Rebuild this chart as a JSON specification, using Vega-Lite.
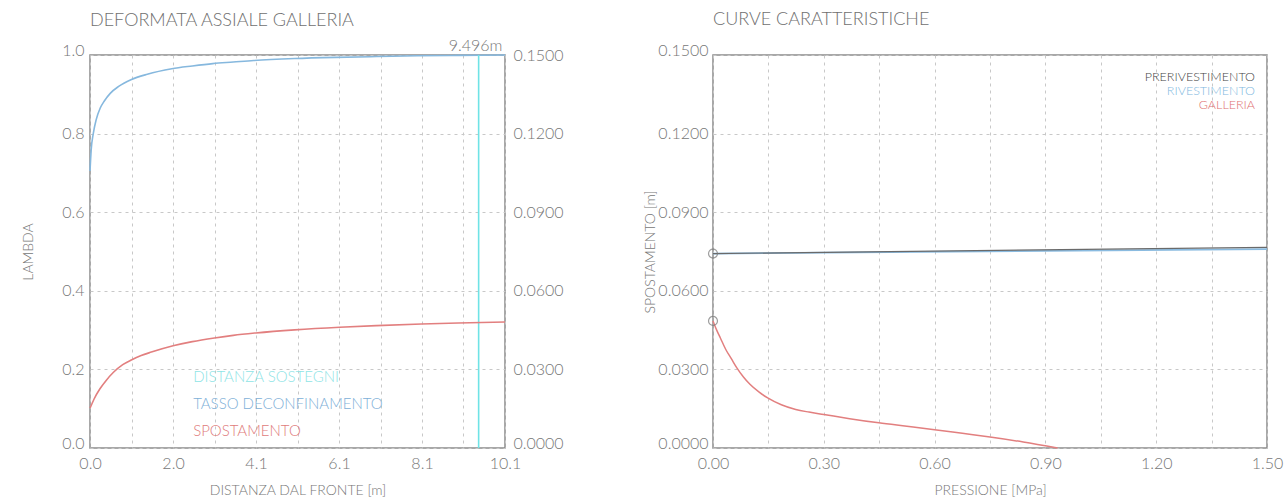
{
  "$schema": "https://vega.github.io/schema/vega-lite/v6.json",
  "background": "white",
  "padding": {"left": 20, "top": 10, "right": 0, "bottom": 0},
  "bounds": "flush",
  "spacing": 208,
  "config": {
    "font": "Lato",
    "view": {"stroke": "#8c8c8c", "strokeWidth": 1.5},
    "axis": {
      "domain": false,
      "ticks": false,
      "grid": true,
      "gridColor": "#c8c8c8",
      "gridDash": [3, 4],
      "gridWidth": 1,
      "labelFlush": false,
      "labelColor": "#777777",
      "labelFont": "Lato",
      "labelFontSize": 16,
      "labelFontWeight": 300,
      "titleColor": "#777777",
      "titleFont": "Lato",
      "titleFontSize": 14,
      "titleFontWeight": 300
    },
    "title": {"font": "Lato", "fontSize": 18, "fontWeight": 300, "color": "#6f6f6f", "anchor": "start", "frame": "group"},
    "text": {"font": "Lato", "fontWeight": 300}
  },
  "datasets": {
    "lambda": [
      {"x": 0, "lambda": 0.705},
      {"x": 0.03, "lambda": 0.76},
      {"x": 0.08, "lambda": 0.8},
      {"x": 0.15, "lambda": 0.835},
      {"x": 0.25, "lambda": 0.865},
      {"x": 0.35, "lambda": 0.883},
      {"x": 0.5, "lambda": 0.903},
      {"x": 0.7, "lambda": 0.92},
      {"x": 1.0, "lambda": 0.937},
      {"x": 1.4, "lambda": 0.951},
      {"x": 2.0, "lambda": 0.965},
      {"x": 2.5, "lambda": 0.972},
      {"x": 3.0, "lambda": 0.978},
      {"x": 3.5, "lambda": 0.982},
      {"x": 4.0, "lambda": 0.986},
      {"x": 5.0, "lambda": 0.991},
      {"x": 6.0, "lambda": 0.994},
      {"x": 7.0, "lambda": 0.996},
      {"x": 8.0, "lambda": 0.998},
      {"x": 9.0, "lambda": 0.999},
      {"x": 10.14, "lambda": 1.0}
    ],
    "spostamento": [
      {"x": 0, "u": 0.0152},
      {"x": 0.05, "u": 0.017},
      {"x": 0.1, "u": 0.0187},
      {"x": 0.243, "u": 0.0226},
      {"x": 0.4, "u": 0.0259},
      {"x": 0.568, "u": 0.0288},
      {"x": 0.8, "u": 0.0318},
      {"x": 1.01, "u": 0.0336},
      {"x": 1.25, "u": 0.0353},
      {"x": 1.5, "u": 0.0366},
      {"x": 2.03, "u": 0.039},
      {"x": 2.5, "u": 0.0406},
      {"x": 3.04, "u": 0.042},
      {"x": 3.5, "u": 0.043},
      {"x": 4.05, "u": 0.0439},
      {"x": 5.0, "u": 0.0451},
      {"x": 6.1, "u": 0.0461},
      {"x": 7.0, "u": 0.0467},
      {"x": 8.1, "u": 0.0473},
      {"x": 9.0, "u": 0.0477},
      {"x": 10.14, "u": 0.0481}
    ],
    "galleria": [
      {"p": 0, "u": 0.0485},
      {"p": 0.01, "u": 0.045},
      {"p": 0.02, "u": 0.042},
      {"p": 0.035, "u": 0.0375},
      {"p": 0.05, "u": 0.034},
      {"p": 0.065, "u": 0.0305},
      {"p": 0.083, "u": 0.027},
      {"p": 0.1, "u": 0.0243},
      {"p": 0.125, "u": 0.0213},
      {"p": 0.148, "u": 0.0191},
      {"p": 0.185, "u": 0.0165},
      {"p": 0.224, "u": 0.0147},
      {"p": 0.26, "u": 0.0137},
      {"p": 0.3, "u": 0.0128},
      {"p": 0.37, "u": 0.0112},
      {"p": 0.449, "u": 0.0096},
      {"p": 0.525, "u": 0.0083},
      {"p": 0.6, "u": 0.007},
      {"p": 0.675, "u": 0.0056},
      {"p": 0.75, "u": 0.0042},
      {"p": 0.84, "u": 0.0023},
      {"p": 0.933, "u": 0.0}
    ],
    "prerivestimento": [
      {"p": 0, "u": 0.0742},
      {"p": 1.5, "u": 0.0766}
    ],
    "rivestimento": [
      {"p": 0, "u": 0.0742},
      {"p": 1.5, "u": 0.0759}
    ],
    "origini": [
      {"p": 0, "u": 0.0742},
      {"p": 0, "u": 0.0485}
    ],
    "unica": [{}]
  },
  "hconcat": [
    {
      "width": 415,
      "height": 393,
      "title": {"text": "DEFORMATA  ASSIALE  GALLERIA", "offset": 8},
      "layer": [
        {
          "layer": [
            {
              "data": {"name": "lambda"},
              "mark": {"type": "line", "color": "#86b8de", "strokeWidth": 1.6, "interpolate": "monotone"},
              "encoding": {
                "x": {
                  "field": "x",
                  "type": "quantitative",
                  "scale": {"domain": [0, 10.14], "nice": false, "zero": false},
                  "axis": {
                    "title": "DISTANZA DAL FRONTE [m]",
                    "values": [0, 1.014, 2.028, 3.042, 4.056, 5.07, 6.084, 7.098, 8.112, 9.126, 10.14],
                    "labelExpr": "round(datum.value / 1.014) % 2 == 0 ? format(datum.value, '.1f') : ''",
                    "labelPadding": 7,
                    "titlePadding": 12
                  }
                },
                "y": {
                  "field": "lambda",
                  "type": "quantitative",
                  "scale": {"domain": [0, 1], "nice": false},
                  "axis": {
                    "title": "LAMBDA",
                    "values": [0, 0.1, 0.2, 0.3, 0.4, 0.5, 0.6, 0.7, 0.8, 0.9, 1.0],
                    "labelExpr": "round(datum.value * 10) % 2 == 0 ? format(datum.value, '.1f') : ''",
                    "labelBaseline": {"condition": {"test": "datum.value == 0 || datum.value == 1", "value": "alphabetic"}, "value": "middle"},
                    "labelPadding": 6,
                    "titlePadding": 26
                  }
                }
              }
            },
            {
              "data": {"name": "unica"},
              "mark": {"type": "rule", "color": "#6fe3e6", "strokeWidth": 1.6},
              "encoding": {"x": {"datum": 9.496, "type": "quantitative"}}
            },
            {
              "data": {"name": "unica"},
              "mark": {"type": "text", "color": "#777777", "fontSize": 16, "align": "center", "baseline": "alphabetic", "dx": -3, "dy": -4},
              "encoding": {
                "x": {"datum": 9.496, "type": "quantitative"},
                "y": {"datum": 1.0, "type": "quantitative"},
                "text": {"value": "9.496m"}
              }
            },
            {
              "data": {"name": "unica"},
              "mark": {"type": "text", "color": "#8fe4e6", "fontSize": 15, "align": "left", "baseline": "middle"},
              "encoding": {
                "x": {"datum": 2.52, "type": "quantitative"},
                "y": {"datum": 0.18, "type": "quantitative"},
                "text": {"value": "DISTANZA  SOSTEGNI"}
              }
            },
            {
              "data": {"name": "unica"},
              "mark": {"type": "text", "color": "#80b0d8", "fontSize": 15, "align": "left", "baseline": "middle"},
              "encoding": {
                "x": {"datum": 2.52, "type": "quantitative"},
                "y": {"datum": 0.112, "type": "quantitative"},
                "text": {"value": "TASSO  DECONFINAMENTO"}
              }
            },
            {
              "data": {"name": "unica"},
              "mark": {"type": "text", "color": "#e07b7b", "fontSize": 15, "align": "left", "baseline": "middle"},
              "encoding": {
                "x": {"datum": 2.52, "type": "quantitative"},
                "y": {"datum": 0.043, "type": "quantitative"},
                "text": {"value": "SPOSTAMENTO"}
              }
            }
          ]
        },
        {
          "data": {"name": "spostamento"},
          "mark": {"type": "line", "color": "#e27f7f", "strokeWidth": 1.6, "interpolate": "monotone"},
          "encoding": {
            "x": {"field": "x", "type": "quantitative"},
            "y": {
              "field": "u",
              "type": "quantitative",
              "scale": {"domain": [0, 0.15], "nice": false},
              "axis": {
                "orient": "right",
                "title": null,
                "grid": false,
                "values": [0, 0.03, 0.06, 0.09, 0.12, 0.15],
                "format": ".4f",
                "labelBaseline": {"condition": {"test": "datum.value == 0", "value": "alphabetic"}, "value": "middle"},
                "labelPadding": 8
              }
            }
          }
        }
      ],
      "resolve": {"scale": {"y": "independent"}}
    },
    {
      "width": 554,
      "height": 393,
      "title": {"text": "CURVE  CARATTERISTICHE", "offset": 13},
      "layer": [
        {
          "data": {"name": "galleria"},
          "mark": {"type": "line", "color": "#e27f7f", "strokeWidth": 1.5, "interpolate": "monotone"},
          "encoding": {
            "x": {
              "field": "p",
              "type": "quantitative",
              "scale": {"domain": [0, 1.5], "nice": false},
              "axis": {
                "title": "PRESSIONE [MPa]",
                "values": [0, 0.15, 0.3, 0.45, 0.6, 0.75, 0.9, 1.05, 1.2, 1.35, 1.5],
                "labelExpr": "round(datum.value / 0.15) % 2 == 0 ? format(datum.value, '.2f') : ''",
                "labelPadding": 7,
                "titlePadding": 12
              }
            },
            "y": {
              "field": "u",
              "type": "quantitative",
              "scale": {"domain": [0, 0.15], "nice": false},
              "axis": {
                "title": "SPOSTAMENTO [m]",
                "values": [0, 0.015, 0.03, 0.045, 0.06, 0.075, 0.09, 0.105, 0.12, 0.135, 0.15],
                "labelExpr": "round(datum.value / 0.015) % 2 == 0 ? format(datum.value, '.4f') : ''",
                "labelBaseline": {"condition": {"test": "datum.value == 0 || datum.value == 0.15", "value": "alphabetic"}, "value": "middle"},
                "labelPadding": 5,
                "titlePadding": 0
              }
            }
          }
        },
        {
          "data": {"name": "rivestimento"},
          "mark": {"type": "line", "color": "#8abbe0", "strokeWidth": 1.8},
          "encoding": {
            "x": {"field": "p", "type": "quantitative"},
            "y": {"field": "u", "type": "quantitative"}
          }
        },
        {
          "data": {"name": "prerivestimento"},
          "mark": {"type": "line", "color": "#6a6a6a", "strokeWidth": 1.2},
          "encoding": {
            "x": {"field": "p", "type": "quantitative"},
            "y": {"field": "u", "type": "quantitative"}
          }
        },
        {
          "data": {"name": "origini"},
          "mark": {"type": "point", "filled": false, "color": "#777777", "size": 80, "strokeWidth": 1.2},
          "encoding": {
            "x": {"field": "p", "type": "quantitative"},
            "y": {"field": "u", "type": "quantitative"}
          }
        },
        {
          "data": {"name": "unica"},
          "mark": {"type": "text", "color": "#444444", "fontSize": 12.5, "align": "right", "baseline": "middle"},
          "encoding": {
            "x": {"datum": 1.4675, "type": "quantitative"},
            "y": {"datum": 0.1415, "type": "quantitative"},
            "text": {"value": "PRERIVESTIMENTO"}
          }
        },
        {
          "data": {"name": "unica"},
          "mark": {"type": "text", "color": "#80b8e0", "fontSize": 12.5, "align": "right", "baseline": "middle"},
          "encoding": {
            "x": {"datum": 1.4675, "type": "quantitative"},
            "y": {"datum": 0.1362, "type": "quantitative"},
            "text": {"value": "RIVESTIMENTO"}
          }
        },
        {
          "data": {"name": "unica"},
          "mark": {"type": "text", "color": "#e07070", "fontSize": 12.5, "align": "right", "baseline": "middle"},
          "encoding": {
            "x": {"datum": 1.4675, "type": "quantitative"},
            "y": {"datum": 0.1309, "type": "quantitative"},
            "text": {"value": "GALLERIA"}
          }
        }
      ]
    }
  ]
}
